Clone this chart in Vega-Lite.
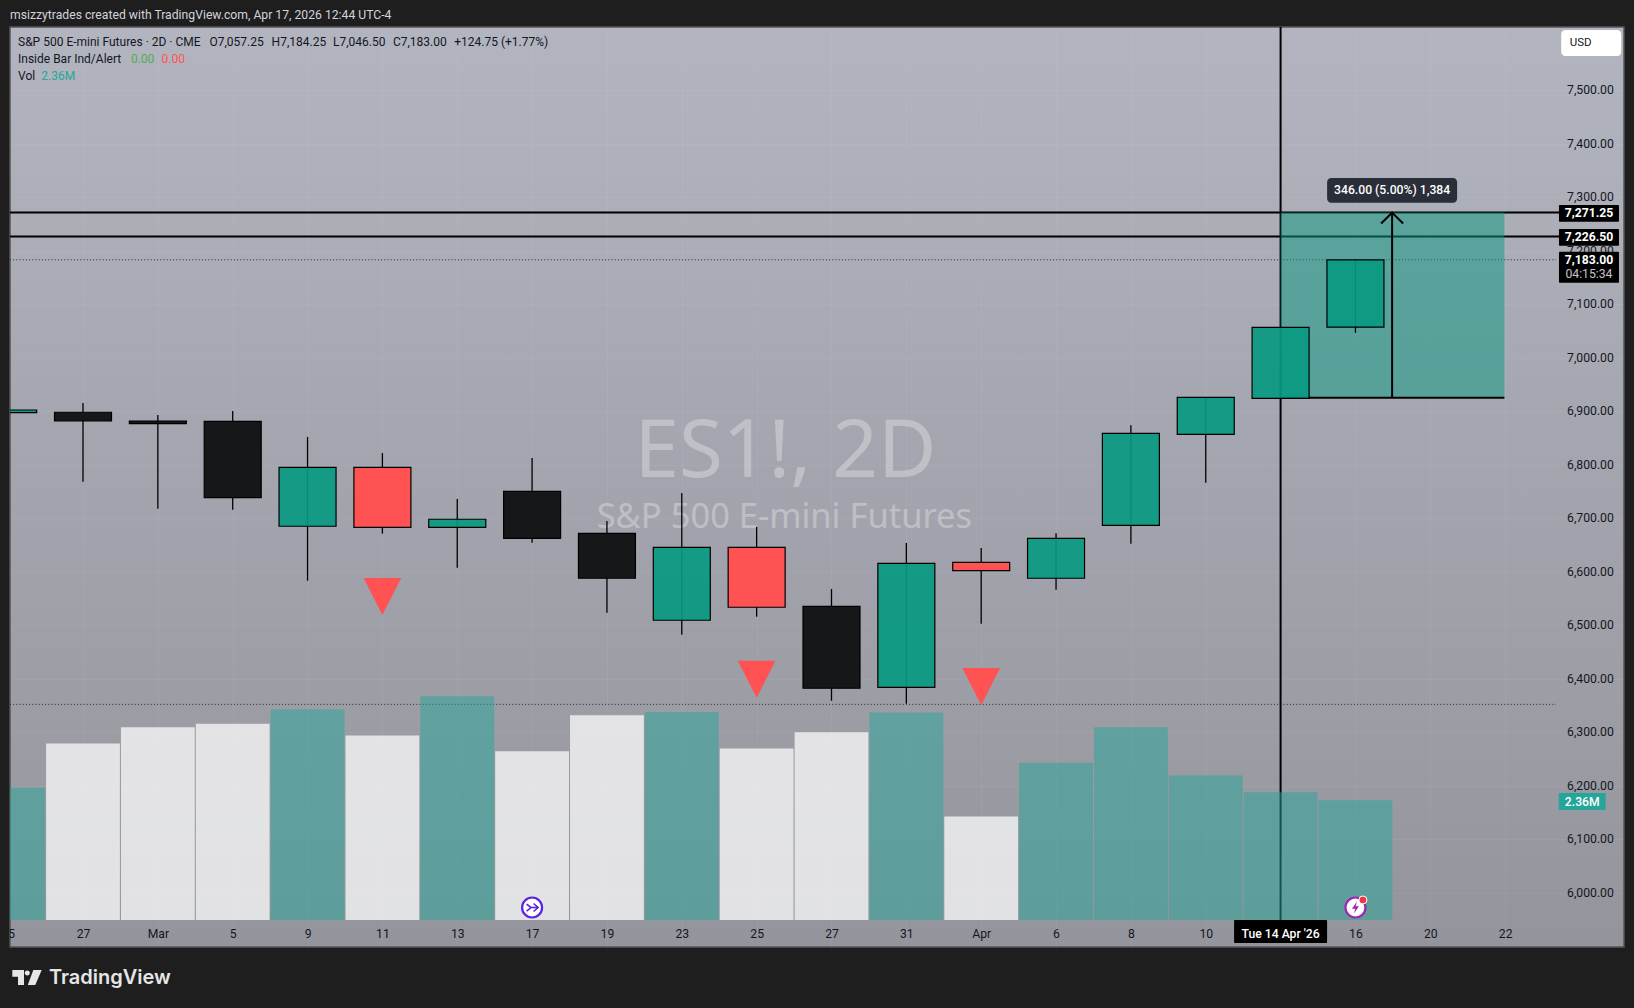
{
  "$schema": "https://vega.github.io/schema/vega-lite/v6.json",
  "width": 1614,
  "height": 920,
  "autosize": "none",
  "padding": {"left": 10, "top": 27, "right": 10, "bottom": 61},
  "background": "#1e1e1e",
  "title": {
    "text": "msizzytrades created with TradingView.com, Apr 17, 2026 12:44 UTC-4",
    "anchor": "start",
    "frame": "group",
    "orient": "top",
    "offset": 5,
    "dx": 0,
    "font": "Roboto",
    "fontSize": 12.2,
    "fontWeight": "normal",
    "color": "#d1d4dc"
  },
  "view": {
    "fill": {
      "gradient": "linear",
      "x1": 0, "y1": 0, "x2": 0, "y2": 1,
      "stops": [
        {"offset": 0, "color": "#b2b4bf"},
        {"offset": 1, "color": "#94959c"}
      ]
    },
    "stroke": "#55555a",
    "strokeWidth": 1.5
  },
  "config": {
    "text": {"font": "Roboto", "fontSize": 12, "color": "#131722"},
    "bar": {"stroke": null}
  },
  "datasets": {
    "bars": [
      {"i": -1, "date": "2026-02-25", "open": 6897.2, "high": 6902.2, "low": 6897.2, "close": 6902.2, "volume": 2610000, "kind": "up", "volKind": "vol_teal"},
      {"i": 0, "date": "2026-02-27", "open": 6898, "high": 6915.3, "low": 6768, "close": 6882, "volume": 3480000, "kind": "inside", "volKind": "vol_white"},
      {"i": 1, "date": "2026-03-03", "open": 6881.7, "high": 6893, "low": 6717.8, "close": 6876.6, "volume": 3800000, "kind": "inside", "volKind": "vol_white"},
      {"i": 2, "date": "2026-03-05", "open": 6881, "high": 6900.4, "low": 6715.9, "close": 6738.3, "volume": 3870000, "kind": "inside", "volKind": "vol_white"},
      {"i": 3, "date": "2026-03-09", "open": 6684.9, "high": 6851.8, "low": 6583.2, "close": 6795.1, "volume": 4150000, "kind": "up", "volKind": "vol_teal"},
      {"i": 4, "date": "2026-03-11", "open": 6795.1, "high": 6821.9, "low": 6671, "close": 6683, "volume": 3640000, "kind": "down", "volKind": "vol_white"},
      {"i": 5, "date": "2026-03-13", "open": 6683, "high": 6735.9, "low": 6607.5, "close": 6698, "volume": 4410000, "kind": "up", "volKind": "vol_teal"},
      {"i": 6, "date": "2026-03-17", "open": 6750.3, "high": 6812.5, "low": 6654.2, "close": 6662.4, "volume": 3330000, "kind": "inside", "volKind": "vol_white"},
      {"i": 7, "date": "2026-03-19", "open": 6671.8, "high": 6694.8, "low": 6523.4, "close": 6587.7, "volume": 4040000, "kind": "inside", "volKind": "vol_white"},
      {"i": 8, "date": "2026-03-23", "open": 6509.2, "high": 6747.1, "low": 6482.2, "close": 6645.6, "volume": 4100000, "kind": "up", "volKind": "vol_teal"},
      {"i": 9, "date": "2026-03-25", "open": 6645.6, "high": 6683.6, "low": 6515.9, "close": 6533.5, "volume": 3380000, "kind": "down", "volKind": "vol_white"},
      {"i": 10, "date": "2026-03-27", "open": 6535.3, "high": 6567.7, "low": 6358.9, "close": 6382.1, "volume": 3700000, "kind": "inside", "volKind": "vol_white"},
      {"i": 11, "date": "2026-03-31", "open": 6383.9, "high": 6653.6, "low": 6353.3, "close": 6615.7, "volume": 4090000, "kind": "up", "volKind": "vol_teal"},
      {"i": 12, "date": "2026-04-02", "open": 6617.6, "high": 6644.3, "low": 6502.8, "close": 6601.9, "volume": 2040000, "kind": "down", "volKind": "vol_white"},
      {"i": 13, "date": "2026-04-06", "open": 6587.7, "high": 6671.8, "low": 6566.4, "close": 6662.4, "volume": 3100000, "kind": "up", "volKind": "vol_teal"},
      {"i": 14, "date": "2026-04-08", "open": 6686.7, "high": 6873.6, "low": 6652.3, "close": 6858.7, "volume": 3800000, "kind": "up", "volKind": "vol_teal"},
      {"i": 15, "date": "2026-04-10", "open": 6856.8, "high": 6926, "low": 6766.4, "close": 6926, "volume": 2850000, "kind": "up", "volKind": "vol_teal"},
      {"i": 16, "date": "2026-04-14", "open": 6924.1, "high": 7056.8, "low": 6924.1, "close": 7056.8, "volume": 2520000, "kind": "up", "volKind": "vol_teal"},
      {"i": 17, "date": "2026-04-16", "open": 7057.25, "high": 7184.25, "low": 7046.5, "close": 7183, "volume": 2360000, "kind": "up", "volKind": "vol_teal"}
    ]
  },
  "resolve": {"scale": {"y": "independent"}},
  "encoding": {
    "x": {
      "field": "i",
      "type": "quantitative",
      "scale": {"domain": [-0.9753, 20.588], "nice": false, "zero": false, "padding": 0},
      "axis": {
        "title": null,
        "orient": "bottom",
        "offset": -13,
        "values": [0, 1, 2, 3, 4, 5, 6, 7, 8, 9, 10, 11, 12, 13, 14, 15, 16, 17, 18, 19],
        "labelExpr": "['27','Mar','5','9','11','13','17','19','23','25','27','31','Apr','6','8','10','14','16','20','22'][datum.value]",
        "labelFont": "Roboto",
        "labelFontSize": 12.2,
        "labelColor": "#131722",
        "labelBaseline": "middle",
        "labelPadding": -1,
        "labelOverlap": false,
        "labelFlush": false,
        "ticks": false,
        "domain": false,
        "grid": true,
        "gridColor": "#ffffff",
        "gridOpacity": 0.05
      }
    }
  },
  "layer": [
    {
      "encoding": {
        "y": {
          "field": "p",
          "type": "quantitative",
          "scale": {"domain": [5898.5, 7618.1], "nice": false, "zero": false},
          "axis": {
            "title": null,
            "orient": "right",
            "offset": -10.7,
            "values": [6000, 6100, 6200, 6300, 6400, 6500, 6600, 6700, 6800, 6900, 7000, 7100, 7200, 7300, 7400, 7500],
            "format": ",.2f",
            "labelFont": "Roboto",
            "labelFontSize": 12.2,
            "labelColor": "#131722",
            "labelAlign": "right",
            "labelPadding": 0,
            "labelOffset": -0.6,
            "labelOverlap": false,
            "ticks": false,
            "domain": false,
            "grid": true,
            "gridColor": "#ffffff",
            "gridOpacity": 0.05
          }
        }
      },
      "layer": [
        {
          "data": {"values": [{"i": 9.385, "p": 6777.6, "text": "ES1!, 2D"}]},
          "mark": {"type": "text", "font": "Noto Sans", "fontSize": 80, "align": "center", "baseline": "alphabetic", "color": "#ffffff", "opacity": 0.3},
          "encoding": {"text": {"field": "text"}}
        },
        {
          "data": {"values": [{"i": 9.37, "p": 6682.2, "text": "S&P 500 E-mini Futures"}]},
          "mark": {"type": "text", "font": "Noto Sans", "fontSize": 34.5, "align": "center", "baseline": "alphabetic", "color": "#ffffff", "opacity": 0.3},
          "encoding": {"text": {"field": "text"}}
        },
        {
          "data": {"values": [{"i": -1, "p": 5922.8, "text": "25"}]},
          "mark": {"type": "text", "clip": true, "align": "center", "baseline": "middle"},
          "encoding": {"text": {"field": "text"}}
        },
        {
          "data": {"values": [{"i": -0.9753, "i2": 19.72, "p": 7271.25}, {"i": -0.9753, "i2": 19.72, "p": 7226.5}]},
          "mark": {"type": "rule", "color": "#000000", "strokeWidth": 2},
          "encoding": {"x2": {"field": "i2"}}
        },
        {
          "data": {"values": [{"i": -0.9753, "i2": 19.68, "p": 7183}, {"i": -0.9753, "i2": 19.68, "p": 6352}]},
          "mark": {"type": "rule", "color": "#2a2a30", "strokeWidth": 1, "strokeDash": [1, 2.2]},
          "encoding": {"x2": {"field": "i2"}}
        },
        {
          "data": {"values": [{"i": 16, "p": 7618.1, "p2": 5949}]},
          "mark": {"type": "rule", "color": "#000000", "strokeWidth": 2},
          "encoding": {"y2": {"field": "p2"}}
        }
      ]
    },
    {
      "data": {"name": "bars"},
      "mark": {"type": "bar", "orient": "vertical", "width": 73.8, "clip": true},
      "encoding": {
        "y": {
          "field": "volume",
          "type": "quantitative",
          "stack": null,
          "scale": {"domain": [-532500, 17610000], "nice": false, "zero": false},
          "axis": null
        },
        "color": {
          "field": "volKind",
          "type": "nominal",
          "legend": null,
          "scale": {
            "domain": ["up", "down", "inside", "vol_teal", "vol_white"],
            "range": ["rgba(8,153,129,0.92)", "#ff5252", "#161719", "rgba(38,166,154,0.5)", "rgba(255,255,255,0.72)"]
          }
        }
      }
    },
    {
      "encoding": {
        "y": {
          "field": "p",
          "type": "quantitative",
          "scale": {"domain": [5898.5, 7618.1], "nice": false, "zero": false},
          "axis": null
        }
      },
      "layer": [
        {
          "data": {"values": [{"i": 16, "i2": 18.99, "p": 7271.25, "p2": 6925.25}]},
          "mark": {"type": "rect", "color": "#089981", "opacity": 0.5},
          "encoding": {"x2": {"field": "i2"}, "y2": {"field": "p2"}}
        },
        {
          "data": {"values": [{"i": 16, "i2": 18.99, "p": 6925.25}]},
          "mark": {"type": "rule", "color": "#000000", "strokeWidth": 2},
          "encoding": {"x2": {"field": "i2"}}
        },
        {
          "data": {"values": [{"i": 17.49, "p": 6925.25, "p2": 7271.25}]},
          "mark": {"type": "rule", "color": "#000000", "strokeWidth": 2},
          "encoding": {"y2": {"field": "p2"}}
        },
        {
          "data": {"values": [{"i": 17.49, "p": 7271.25}]},
          "mark": {"type": "point", "shape": "M-1,1L0,0L1,1", "size": 484, "filled": false, "stroke": "#000000", "strokeWidth": 2, "opacity": 1},
          "encoding": {}
        },
        {
          "data": {"name": "bars"},
          "mark": {"type": "rule", "color": "#000000", "strokeWidth": 1.3, "clip": true},
          "encoding": {
            "y": {"field": "high", "type": "quantitative", "scale": {"domain": [5898.5, 7618.1], "nice": false, "zero": false}, "axis": null},
            "y2": {"field": "low"}
          }
        },
        {
          "data": {"name": "bars"},
          "mark": {"type": "bar", "orient": "vertical", "width": 57, "stroke": "#000000", "strokeWidth": 1.2, "clip": true},
          "encoding": {
            "y": {"field": "open", "type": "quantitative", "stack": null, "scale": {"domain": [5898.5, 7618.1], "nice": false, "zero": false}, "axis": null},
            "y2": {"field": "close"},
            "color": {"field": "kind", "type": "nominal", "legend": null}
          }
        },
        {
          "data": {"values": [{"i": 4, "p": 6553.6}, {"i": 9, "p": 6398.9}, {"i": 12, "p": 6385.4}]},
          "mark": {"type": "point", "shape": "M-1,-0.98L1,-0.98L0,0.98Z", "size": 1421, "filled": true, "color": "#ff5252", "opacity": 1},
          "encoding": {}
        },
        {
          "data": {"values": [{"i": 6, "p": 5972.3}]},
          "mark": {"type": "point", "shape": "circle", "size": 400, "filled": true, "fill": "#ffffff", "stroke": "#5b21e6", "strokeWidth": 2.2, "opacity": 1},
          "encoding": {}
        },
        {
          "data": {"values": [{"i": 6, "p": 5972.3}]},
          "mark": {"type": "point", "shape": "M-0.55,-0.35L-0.1,0L-0.55,0.35M-0.1,0L0.55,0M0.15,-0.4L0.6,0L0.15,0.4", "size": 400, "filled": false, "stroke": "#5b21e6", "strokeWidth": 1.6, "opacity": 1},
          "encoding": {}
        },
        {
          "data": {"values": [{"i": 17, "p": 5972.3}]},
          "mark": {"type": "point", "shape": "circle", "size": 400, "filled": true, "fill": "#ffffff", "stroke": "#9c27b0", "strokeWidth": 2.2, "opacity": 1},
          "encoding": {}
        },
        {
          "data": {"values": [{"i": 17, "p": 5972.3}]},
          "mark": {"type": "point", "shape": "M0.15,-0.6L-0.35,0.12L-0.02,0.12L-0.15,0.6L0.35,-0.12L0.02,-0.12Z", "size": 400, "filled": true, "color": "#9c27b0", "opacity": 1},
          "encoding": {}
        },
        {
          "data": {"values": [{"i": 17.1, "p": 5986.4}]},
          "mark": {"type": "point", "shape": "circle", "size": 64, "filled": true, "fill": "#f23645", "stroke": "#ffffff", "strokeWidth": 1, "opacity": 1},
          "encoding": {}
        },
        {
          "data": {"values": [{"i": 17.49, "p": 7335.9, "p2": 7289.7}]},
          "mark": {"type": "bar", "orient": "vertical", "width": 130, "color": "#2a2e39", "cornerRadius": 4},
          "encoding": {"y2": {"field": "p2"}}
        },
        {
          "data": {"values": [{"i": 17.49, "p": 7312.9, "text": "346.00 (5.00%) 1,384"}]},
          "mark": {"type": "text", "color": "#ffffff", "fontSize": 12.2, "fontWeight": 500, "align": "center", "baseline": "middle"},
          "encoding": {"text": {"field": "text"}}
        },
        {
          "data": {"values": [
            {"i": 20.12, "p": 7285.4, "p2": 7254.2},
            {"i": 20.12, "p": 7240.6, "p2": 7209.3},
            {"i": 20.12, "p": 7198.1, "p2": 7140.2}
          ]},
          "mark": {"type": "bar", "orient": "vertical", "width": 60, "color": "#000000", "cornerRadius": 1},
          "encoding": {"y2": {"field": "p2"}}
        },
        {
          "data": {"values": [
            {"i": 20.12, "p": 7271.25, "text": "7,271.25"},
            {"i": 20.12, "p": 7226.5, "text": "7,226.50"},
            {"i": 20.12, "p": 7183, "text": "7,183.00"}
          ]},
          "mark": {"type": "text", "color": "#ffffff", "fontSize": 12.2, "fontWeight": 700, "align": "center", "baseline": "middle"},
          "encoding": {"text": {"field": "text"}}
        },
        {
          "data": {"values": [{"i": 20.12, "p": 7156.4, "text": "04:15:34"}]},
          "mark": {"type": "text", "color": "#c4c4c4", "fontSize": 12.2, "align": "center", "baseline": "middle"},
          "encoding": {"text": {"field": "text"}}
        },
        {
          "data": {"values": [{"i": 20.03, "p": 6186.4, "p2": 6154.8}]},
          "mark": {"type": "bar", "orient": "vertical", "width": 47, "color": "#26a69a"},
          "encoding": {"y2": {"field": "p2"}}
        },
        {
          "data": {"values": [{"i": 20.03, "p": 6170, "text": "2.36M"}]},
          "mark": {"type": "text", "color": "#ffffff", "fontSize": 12.2, "fontWeight": 500, "align": "center", "baseline": "middle"},
          "encoding": {"text": {"field": "text"}}
        },
        {
          "data": {"values": [{"i": 16, "p": 5949, "p2": 5906}]},
          "mark": {"type": "bar", "orient": "vertical", "width": 93, "color": "#000000", "cornerRadius": 1},
          "encoding": {"y2": {"field": "p2"}}
        },
        {
          "data": {"values": [{"i": 16, "p": 5922.8, "text": "Tue 14 Apr '26"}]},
          "mark": {"type": "text", "color": "#ffffff", "fontSize": 12.2, "fontWeight": 500, "align": "center", "baseline": "middle"},
          "encoding": {"text": {"field": "text"}}
        },
        {
          "data": {"values": [{"i": 20.15, "p": 7612.5, "p2": 7563.9}]},
          "mark": {"type": "bar", "orient": "vertical", "width": 60, "color": "#ffffff", "cornerRadius": 4},
          "encoding": {"y2": {"field": "p2"}}
        },
        {
          "data": {"values": [{"i": 20.01, "p": 7588, "text": "USD"}]},
          "mark": {"type": "text", "fontSize": 11.5, "align": "center", "baseline": "middle"},
          "encoding": {"text": {"field": "text"}}
        },
        {
          "data": {"values": [
            {"i": -0.868, "p": 7590.7, "text": "S&P 500 E-mini Futures · 2D · CME"},
            {"i": 1.69, "p": 7590.7, "text": "O7,057.25"},
            {"i": 2.52, "p": 7590.7, "text": "H7,184.25"},
            {"i": 3.34, "p": 7590.7, "text": "L7,046.50"},
            {"i": 4.14, "p": 7590.7, "text": "C7,183.00"},
            {"i": 4.96, "p": 7590.7, "text": "+124.75 (+1.77%)"},
            {"i": -0.868, "p": 7558.9, "text": "Inside Bar Ind/Alert"},
            {"i": -0.868, "p": 7526.5, "text": "Vol"}
          ]},
          "mark": {"type": "text", "align": "left", "baseline": "middle"},
          "encoding": {"text": {"field": "text"}}
        },
        {
          "data": {"values": [{"i": 0.64, "p": 7558.9, "text": "0.00"}]},
          "mark": {"type": "text", "color": "#4caf50", "align": "left", "baseline": "middle"},
          "encoding": {"text": {"field": "text"}}
        },
        {
          "data": {"values": [{"i": 1.05, "p": 7558.9, "text": "0.00"}]},
          "mark": {"type": "text", "color": "#ff5252", "align": "left", "baseline": "middle"},
          "encoding": {"text": {"field": "text"}}
        },
        {
          "data": {"values": [{"i": -0.557, "p": 7526.5, "text": "2.36M"}]},
          "mark": {"type": "text", "color": "#26a69a", "align": "left", "baseline": "middle"},
          "encoding": {"text": {"field": "text"}}
        },
        {
          "data": {"values": [{"i": -0.748, "p": 5841.5}]},
          "mark": {"type": "point", "shape": "M-0.98,-0.5H-0.2V0.5H-0.6V-0.05H-0.98ZM0.42,-0.5H0.98L0.55,0.5H0.05ZM0.02,-0.47A0.17,0.17,0,1,1,0.019,-0.47Z", "size": 900, "filled": true, "color": "#e6e6e6", "opacity": 1},
          "encoding": {}
        },
        {
          "data": {"values": [{"i": -0.455, "p": 5829.3, "text": "TradingView"}]},
          "mark": {"type": "text", "font": "Inter", "fontSize": 20, "fontWeight": 600, "color": "#e6e6e6", "align": "left", "baseline": "alphabetic"},
          "encoding": {"text": {"field": "text"}}
        }
      ]
    }
  ]
}
